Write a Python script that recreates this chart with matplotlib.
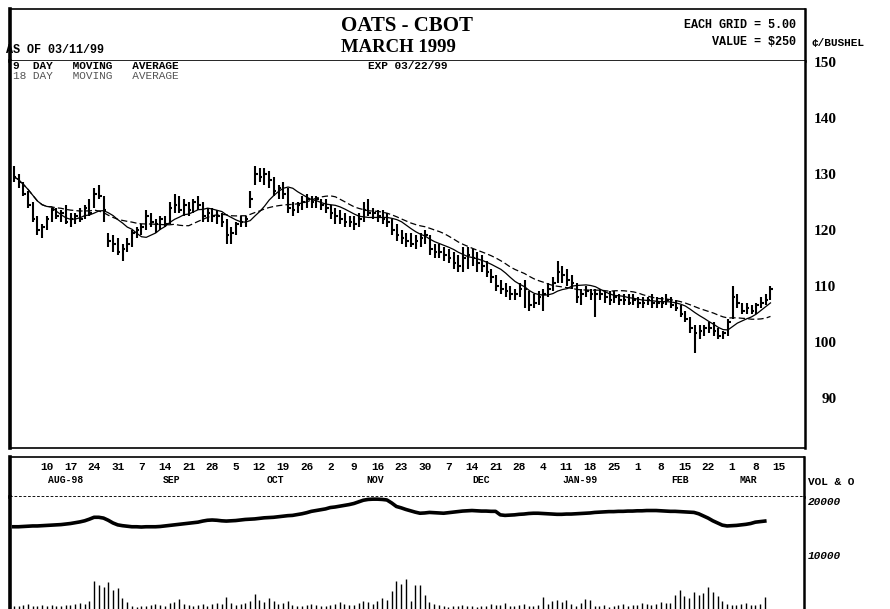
import numpy as np
import pandas as pd
import matplotlib
matplotlib.use("Agg")
import matplotlib.pyplot as plt

# ─── Data ─────────────────────────────────────────────────────────────────────
# daily bars, trading-day index: first bar = -7 (30-Jul-98), Mon 10-Aug-98 = 0
FIRST_DAY = -7

highs = [
    131.5, 130.0, 128.5, 127.0, 125.0, 122.5, 121.0, 122.5, 124.0, 124.0,
    123.5, 124.5, 123.0, 123.0, 124.0, 124.5, 125.5, 127.5, 128.0, 126.0,
    119.5, 119.0, 118.5, 117.5, 118.5, 120.0, 120.5, 121.0, 123.5, 123.0,
    122.0, 122.5, 122.5, 125.0, 126.5, 126.0, 125.5, 125.0, 125.5, 126.0,
    125.0, 124.0, 124.0, 123.5, 123.0, 122.0, 120.5, 121.5, 122.5, 122.5,
    127.0, 131.5, 131.0, 131.0, 130.5, 129.5, 128.0, 128.5, 127.5, 125.0,
    125.0, 126.0, 126.5, 126.0, 126.0, 125.5, 125.5, 124.5, 124.0, 123.5,
    123.0, 122.5, 122.5, 123.0, 125.0, 125.5, 124.0, 123.5, 123.5, 123.0,
    122.0, 121.0, 120.0, 119.5, 119.5, 119.0, 119.5, 120.0, 119.0, 117.5,
    117.5, 117.0, 116.5, 116.0, 115.5, 117.0, 117.0, 116.5, 116.0, 115.5,
    114.5, 113.0, 112.0, 111.0, 110.5, 110.0, 109.5, 110.5, 111.0, 109.0,
    108.5, 109.0, 109.5, 110.5, 111.5, 114.5, 113.5, 113.0, 112.0, 110.5,
    109.5, 110.0, 109.5, 109.5, 109.5, 109.0, 109.0, 109.0, 108.5, 108.5,
    108.5, 108.5, 108.0, 108.0, 108.0, 108.5, 108.0, 108.0, 108.5, 108.0,
    107.5, 106.5, 105.5, 104.5, 103.0, 103.0, 103.0, 103.5, 103.5, 102.5,
    102.0, 104.0, 110.0, 108.5, 107.0, 107.0, 106.5, 107.0, 108.0, 108.5, 110.0,
]
lows = [
    128.5, 127.5, 126.0, 124.0, 121.5, 119.0, 118.5, 120.0, 121.5, 122.0,
    121.5, 121.0, 120.5, 121.0, 121.5, 122.0, 122.5, 124.0, 125.5, 121.5,
    117.0, 116.0, 115.5, 114.5, 116.0, 117.0, 118.5, 119.0, 120.0, 120.5,
    119.5, 120.0, 120.5, 121.0, 123.0, 123.0, 122.5, 122.5, 123.0, 123.5,
    121.5, 121.5, 121.5, 121.0, 120.5, 117.5, 117.5, 119.0, 120.5, 120.5,
    124.0, 128.0, 128.5, 128.0, 127.5, 126.0, 125.5, 125.5, 123.0, 122.5,
    123.0, 123.5, 124.0, 124.0, 124.0, 123.5, 123.0, 122.0, 121.0, 121.0,
    120.5, 120.5, 120.0, 120.5, 121.5, 122.5, 122.0, 121.5, 121.0, 120.5,
    119.0, 118.0, 117.5, 117.0, 117.0, 116.5, 117.0, 117.5, 115.5, 115.0,
    115.0, 114.5, 114.0, 113.0, 112.5, 112.5, 113.0, 113.5, 112.5, 112.5,
    111.5, 110.5, 109.0, 108.5, 108.0, 107.5, 107.5, 108.0, 106.0, 105.5,
    106.0, 106.5, 105.5, 108.0, 109.0, 110.5, 110.5, 110.0, 109.5, 107.0,
    106.5, 108.0, 107.5, 104.5, 107.5, 107.0, 106.5, 107.0, 106.5, 106.5,
    106.5, 106.5, 106.0, 106.0, 106.5, 106.0, 106.0, 106.0, 106.5, 106.0,
    105.5, 104.5, 103.5, 101.5, 98.0, 100.5, 101.0, 101.5, 101.0, 100.5,
    100.5, 101.0, 104.0, 106.0, 105.0, 105.0, 105.0, 105.0, 106.0, 106.5, 107.5,
]
closes = [
    129.5, 128.5, 126.5, 124.5, 122.0, 120.0, 120.5, 122.0, 123.5, 122.5,
    123.0, 121.5, 122.0, 122.5, 122.0, 124.0, 123.0, 126.5, 126.0, 123.5,
    118.0, 117.5, 116.0, 116.5, 117.5, 119.5, 120.0, 120.5, 122.5, 121.5,
    121.0, 122.0, 121.0, 124.0, 124.5, 123.5, 124.5, 123.5, 125.0, 124.5,
    122.5, 123.0, 122.5, 122.5, 121.5, 119.0, 119.5, 121.0, 121.5, 122.0,
    125.5, 130.0, 129.5, 130.0, 129.0, 127.0, 127.5, 126.5, 124.0, 123.5,
    124.5, 125.0, 125.5, 125.0, 125.5, 124.5, 124.0, 123.0, 122.5, 122.0,
    121.5, 121.5, 121.0, 122.0, 123.5, 123.0, 123.0, 122.5, 122.0, 121.5,
    120.0, 119.0, 118.5, 118.0, 117.5, 118.0, 118.5, 119.0, 116.5, 116.0,
    116.0, 115.5, 115.0, 114.0, 113.5, 115.0, 115.5, 115.0, 114.0, 113.5,
    112.5, 111.5, 110.0, 109.5, 109.0, 108.5, 108.5, 109.5, 109.5, 106.5,
    107.0, 108.0, 108.5, 109.5, 110.5, 112.5, 112.0, 111.0, 110.5, 108.0,
    108.5, 109.0, 108.5, 108.5, 108.5, 108.0, 107.5, 108.0, 107.5, 107.5,
    107.0, 107.5, 107.0, 107.0, 107.5, 107.0, 107.0, 107.0, 107.5, 106.5,
    106.0, 105.0, 104.0, 102.5, 101.5, 102.0, 102.5, 102.5, 102.0, 101.0,
    101.5, 103.5, 108.0, 107.0, 105.5, 106.0, 105.5, 106.5, 107.0, 107.5, 109.5,
]

# volume / open interest are reported one day late (end 10-Mar-99)
volume = [
    600, 500, 700, 900, 600, 500, 800,
    600, 700, 500, 600, 800, 700, 900, 1200, 1000, 1500,
    5200, 4500, 4000, 5000, 3600, 3800, 2000, 1300,
    500, 400, 600, 500, 700, 900, 800, 600, 1100, 1300,
    1900, 1000, 800, 600, 700, 900, 600, 1000, 1200, 900,
    2200, 1100, 700, 900, 1200, 1500, 2800, 1600, 1300, 2000,
    1500, 900, 1200, 1500, 800, 600, 500, 700, 1000, 800,
    600, 500, 700, 1000, 1300, 900, 700, 800, 1100, 1500,
    1300, 900, 1400, 2100, 1700,
    3400, 5200, 4600, 5500, 1500, 4500, 4500, 2500, 1300,
    900, 700, 500, 400, 600, 500, 700, 500, 600, 400,
    500, 600, 900, 700, 800, 1100, 600, 500, 700, 900,
    600, 500, 800, 2200, 1000, 1500, 1700, 1300, 1600, 900,
    600, 1200, 1800, 1700, 600, 500, 700, 400, 600, 700,
    900, 600, 700, 800, 1200, 1000, 700, 1000, 1300, 1200,
    1100, 2600, 3500, 2400, 2000, 3200, 2600, 3000, 4100, 3200,
    2400, 1400, 1000, 800, 700, 900, 1100, 700, 800, 900, 2200,
]
open_interest = [
    15200, 15200, 15250, 15300, 15350, 15350, 15400, 15450, 15500, 15550,
    15600, 15700, 15800, 15950, 16100, 16300, 16600, 16950, 16950, 16800,
    16400, 15900, 15550, 15400, 15300, 15200, 15200, 15150, 15200, 15200,
    15200, 15250, 15350, 15450, 15550, 15650, 15750, 15850, 15950, 16050,
    16250, 16400, 16450, 16400, 16300, 16250, 16300, 16350, 16450, 16550,
    16600, 16650, 16750, 16850, 16900, 16950, 17050, 17150, 17250, 17300,
    17450, 17600, 17800, 18050, 18200, 18350, 18500, 18750, 18850, 19000,
    19150, 19300, 19500, 19800, 20100, 20250, 20300, 20300, 20250, 20150,
    19600, 18950, 18700, 18400, 18150, 17900, 17700, 17750, 17850, 17800,
    17750, 17700, 17800, 17900, 18000, 18100, 18150, 18200, 18150, 18100,
    18100, 18050, 18050, 17400, 17300, 17350, 17400, 17500, 17550, 17650,
    17700, 17700, 17650, 17600, 17550, 17500, 17500, 17550, 17550, 17600,
    17650, 17700, 17750, 17850, 17900, 17950, 18000, 18000, 18050, 18050,
    18100, 18100, 18150, 18150, 18200, 18200, 18200, 18150, 18100, 18050,
    18050, 18000, 17950, 17900, 17850, 17600, 17200, 16800, 16300, 15900,
    15500, 15350, 15400, 15450, 15550, 15650, 15800, 16050, 16150, 16250,
]

# Monday labels (one every 5 trading days starting at day 0)
date_labels = ["10", "17", "24", "31", "7", "14", "21", "28", "5", "12", "19",
               "26", "2", "9", "16", "23", "30", "7", "14", "21", "28", "4",
               "11", "18", "25", "1", "8", "15", "22", "1", "8", "15"]
month_labels = ["AUG-98", "SEP", "OCT", "NOV", "DEC", "JAN-99", "FEB", "MAR"]
month_days = [4, 26.5, 48.5, 69.5, 92, 113, 134, 148.5]
price_ticks = [90, 100, 110, 120, 130, 140, 150]
vol_ticks = [10000, 20000]

# ─── Layout helpers (pixel -> figure fraction) ────────────────────────────────
W, H = 890, 609
def fx(x): return x / W
def fy(y): return 1 - y / H
def box(x0, y0, x1, y1):
    return [fx(x0), fy(y1), (x1 - x0) / W, (y1 - y0) / H]

MONO = "Liberation Mono"
SERIF = "Liberation Serif"
XLIM = (-7.8, 160.3)

fig = plt.figure(figsize=(W / 100, H / 100), dpi=100)
fig.patch.set_facecolor("white")

def style_box(ax, left=2.6, right=1.8, top=1.2, bottom=1.2):
    for side, lw in (("left", left), ("right", right), ("top", top), ("bottom", bottom)):
        if lw:
            ax.spines[side].set_linewidth(lw)
            ax.spines[side].set_color("black")
        else:
            ax.spines[side].set_visible(False)
    ax.set_xticks([])
    ax.set_yticks([])

# header strip
ax_h = fig.add_axes(box(10, 9, 805, 61))
style_box(ax_h)

# price panel
ax = fig.add_axes(box(10, 61, 805, 448))
style_box(ax, top=0)
t = np.arange(FIRST_DAY, FIRST_DAY + len(closes))
ax.vlines(t, lows, highs, color="black", lw=1.5)
ax.hlines(closes, t, t + 0.55, color="black", lw=1.5)

c = pd.Series(closes)
ma9 = c.rolling(9, min_periods=1).mean()
ma18 = c.rolling(18, min_periods=1).mean()
ax.plot(t, ma9, color="black", lw=0.9)
ax.plot(t, ma18, color="black", lw=0.9, dashes=(5, 2.5))

ax.set_xlim(*XLIM)
ax.set_ylim(81.0, 150.2)
ax.yaxis.tick_right()
ax.set_yticks(price_ticks)
ax.set_yticklabels([str(v) for v in price_ticks], fontfamily=SERIF,
                   fontweight="bold", fontsize=11, ha="right")
ax.tick_params(axis="y", right=True, length=0, pad=22.5)

# date strip
ax_d = fig.add_axes(box(10, 457, 804, 497))
style_box(ax_d, bottom=0)
ax_d.axhline(0, color="black", lw=1.3, ls=(0, (1.5, 1)))
ax_d.set_xlim(*XLIM)
ax_d.set_ylim(0, 1)
for i, lab in enumerate(date_labels):
    ax_d.text(5 * i, 0.76, lab, ha="center", va="center", fontfamily=MONO,
              fontweight="bold", fontsize=8)
for lab, d in zip(month_labels, month_days):
    ax_d.text(d, 0.42, lab, ha="center", va="center", fontfamily=MONO,
              fontweight="bold", fontsize=7)

# volume / open interest strip
ax_v = fig.add_axes(box(10, 497, 804, 609))
style_box(ax_v, top=0, bottom=0)
tv = np.arange(FIRST_DAY, FIRST_DAY + len(volume))
ax_v.vlines(tv, 0, volume, color="black", lw=1.0)
ax_v.plot(tv, open_interest, color="black", lw=2.6)
ax_v.set_xlim(*XLIM)
ax_v.set_ylim(0, 20700)
ax_v.yaxis.tick_right()
ax_v.set_yticks(vol_ticks)
ax_v.set_yticklabels([str(v) for v in vol_ticks], fontfamily=MONO,
                     fontweight="bold", fontstyle="italic", fontsize=8)
ax_v.tick_params(axis="y", right=True, length=0, pad=2.5)

# ─── Header and side text ─────────────────────────────────────────────────────
def ptext(x, y, s, **kw):
    fig.text(fx(x), fy(y), s, va="center", **kw)

ptext(407, 26, "OATS - CBOT", ha="center", fontfamily=SERIF,
      fontweight="bold", fontsize=15)
ptext(398, 47, "MARCH 1999", ha="center", fontfamily=SERIF,
      fontweight="bold", fontsize=13.5)
ptext(6, 50, "AS OF 03/11/99", ha="left", fontfamily=MONO,
      fontweight="bold", fontsize=8.5)
ptext(796, 25, "EACH GRID = 5.00", ha="right", fontfamily=MONO,
      fontweight="bold", fontsize=8.5)
ptext(796, 42, "VALUE = $250", ha="right", fontfamily=MONO,
      fontweight="bold", fontsize=8.5)
ptext(811, 43, "¢/BUSHEL", ha="left", fontfamily=MONO,
      fontweight="bold", fontsize=8)
ptext(13, 66, "9  DAY   MOVING   AVERAGE", ha="left", fontfamily=MONO,
      fontweight="bold", fontsize=8)
ptext(13, 76, "18 DAY   MOVING   AVERAGE", ha="left", fontfamily=MONO,
      fontsize=8, color="#555555")
ptext(368, 66, "EXP 03/22/99", ha="left", fontfamily=MONO,
      fontweight="bold", fontsize=8)
ptext(808, 482, "VOL & O", ha="left", fontfamily=MONO,
      fontweight="bold", fontsize=8)

fig.savefig("out.png", dpi=100)
